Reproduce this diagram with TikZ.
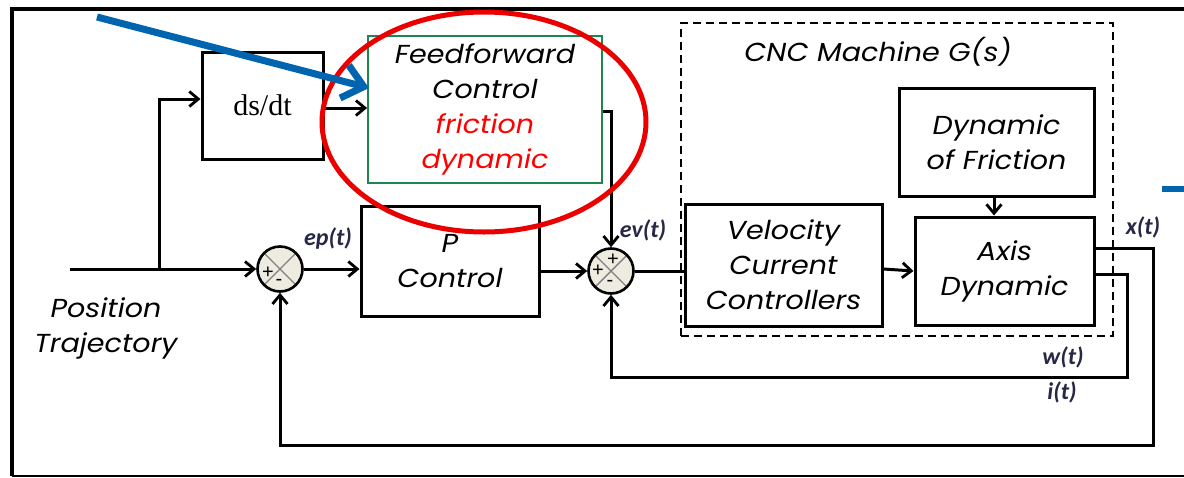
\documentclass[tikz,border=0pt]{standalone}
\usepackage{fontspec}
\setmainfont{Poppins}[FakeStretch=1.1]
\newfontfamily\serifx{Liberation Serif}
\newfontfamily\labfont{Carlito}
\newfontfamily\signfont{Liberation Sans}
\usetikzlibrary{arrows.meta}
\definecolor{ffgreen}{RGB}{30,135,80}
\definecolor{sumfill}{RGB}{238,236,225}
\definecolor{labcol}{RGB}{40,40,70}
\definecolor{bluearr}{RGB}{0,100,175}
\definecolor{ellred}{RGB}{235,0,0}
\begin{document}
\begin{tikzpicture}[x=1pt,y=-1pt,
  txt/.style={font=\fontsize{26}{35}\selectfont\itshape, align=center},
  blk/.style={draw=black, line width=3pt, fill=white, inner sep=0pt, txt},
  sum/.style={circle, draw=black, line width=2.6pt, fill=sumfill, minimum size=45pt, inner sep=0pt,
     path picture={\draw[gray, line width=1.4pt] (path picture bounding box.north west) -- (path picture bounding box.south east)
        (path picture bounding box.north east) -- (path picture bounding box.south west);}},
  sgn/.style={font=\signfont\fontsize{20}{20}\selectfont, inner sep=0pt},
  wire/.style={draw=black, line width=3pt},
  arr/.style={wire, -{Straight Barb[length=9pt,width=15pt,line width=2.8pt]}},
  lab/.style={font=\labfont\bfseries\itshape\fontsize{24}{26}\selectfont, text=labcol, inner sep=0pt}
]
\useasboundingbox (0,0) rectangle (1184,477);

% frame
\coordinate (f1) at (1184,9);
\coordinate (f2) at (12,9);
\coordinate (f3) at (12,476);
\coordinate (f4) at (1184,476);
\draw[line width=4.5pt] (f1) -- (f2) -- (f3);
\draw[line width=2pt] (f3) -- (f4);

% CNC dashed box
\node[draw=black, line width=2.8pt, dash pattern=on 8pt off 5pt, minimum width=432pt, minimum height=313pt, inner sep=0pt] (cnc) at (897,179.5) {};
\node[txt] (cnct) at (878,52) {CNC Machine G(s)};

% blocks
\node[blk, font=\serifx\fontsize{30}{32}\selectfont, minimum width=121pt, minimum height=107pt] (dsdt) at (262.5,105.5) {ds/dt};
\node[blk, draw=ffgreen, line width=1.8pt, minimum width=234pt, minimum height=147pt] (ff) at (485,109.5)
  {Feedforward\\Control\\\textcolor{red}{friction}\\\textcolor{red}{dynamic}};
\node[blk, minimum width=178pt, minimum height=110pt] (pc) at (450,261) {P\\Control};
\node[blk, minimum width=197pt, minimum height=122pt] (vel) at (783.5,265) {Velocity\\Current\\Controllers};
\node[blk, minimum width=179pt, minimum height=108pt] (axis) at (1004.5,271) {Axis\\Dynamic};
\node[blk, minimum width=195pt, minimum height=108pt] (dof) at (996.5,142) {Dynamic\\of Friction};

% summing junctions
\node[sum] (s1) at (280,269) {};
\node[sgn] (s1p) at ([xshift=-12pt,yshift=-4pt]s1.center) {+};
\node[sgn] (s1m) at ([xshift=-1pt,yshift=-13pt]s1.center) {-};
\node[sum] (s2) at (611,271) {};
\node[sgn] (s2p) at ([xshift=-13pt,yshift=0pt]s2.center) {+};
\node[sgn] (s2t) at ([xshift=2pt,yshift=11pt]s2.center) {+};
\node[sgn] (s2m) at ([xshift=-1pt,yshift=-12pt]s2.center) {-};

% input
\node[txt] (pos) at (106,328) {Position\\Trajectory};
\coordinate (in) at (70,269);
\coordinate (j) at (159,269);
\draw[arr] (in) -- (s1.west);
\draw[arr] (j) -- (159,99) -- (dsdt.west |- 0,99);
\draw[arr] (dsdt.east |- 0,108) -- (ff.west |- 0,108);
\draw[arr] (ff.east |- 0,111) -- (611,111) -- (s2.north);
\draw[arr] (s1.east) -- (pc.west |- s1.east);
\draw[arr] (pc.east |- s2.west) -- (s2.west);
\draw[wire] (s2.east) -- (vel.west |- s2.east);
\draw[arr] (vel.east |- 0,269) -- (axis.west |- 0,271);
\draw[arr] (dof.south -| 994,0) -- (axis.north -| 994,0);
\draw[arr] (axis.east |- 0,248) -- (1153,248) -- (1153,445) -- (280,445) -- (s1.south);
\draw[arr] (axis.east |- 0,274) -- (1127,274) -- (1127,377) -- (611,377) -- (s2.south);

% labels
\node[lab] (lep) at (328,238) {ep(t)};
\node[lab] (lev) at (643,230) {ev(t)};
\node[lab] (lx) at (1143,227) {x(t)};
\node[lab] (lw) at (1063,357) {w(t)};
\node[lab] (li) at (1062,392) {i(t)};

% annotations
\draw[ellred, line width=5pt] (484,122) ellipse [x radius=162pt, y radius=110pt];
\coordinate (bs) at (97,17);
\coordinate (bt) at (369,88);
\draw[bluearr, line width=7pt, -{Straight Barb[length=20pt,width=34pt,line width=7pt]}] (bs) -- (bt);
\coordinate (bl1) at (1162,189);
\coordinate (bl2) at (1184,189);
\draw[bluearr, line width=6pt] (bl1) -- (bl2);
\end{tikzpicture}
\end{document}
